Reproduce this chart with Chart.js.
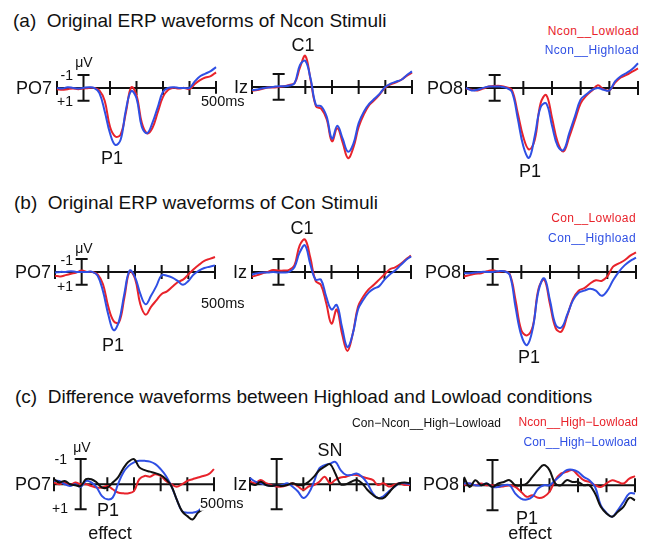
<!DOCTYPE html>
<html>
<head>
<meta charset="utf-8">
<style>
  body { margin: 0; background: #fff; }
  #fig { position: relative; width: 649px; height: 543px; overflow: hidden; font-family: "Liberation Sans", Arial, sans-serif; }
  #fig canvas { position: absolute; }
  .lbl { position: absolute; white-space: pre; line-height: 1; color: #111; }
  .key { letter-spacing: 0.4px; }
  .key2 { letter-spacing: 0.1px; }
</style>
<script src="https://cdn.jsdelivr.net/npm/chart.js@4/dist/chart.umd.min.js"></script>
</head>
<body>
<div id="fig"></div>
<script>
// time axis (ms), one sample every 20 ms
const times = [-100, -80, -60, -40, -20, 0, 20, 40, 60, 80, 100, 120, 140, 160, 180, 200,
               220, 240, 260, 280, 300, 320, 340, 360, 380, 400, 420, 440, 460, 480, 500];
const tickTimes = [-100, 100, 200, 300, 400, 500];

// amplitudes in uV, positive plotted downward
// (a) Ncon stimuli
const po7NconLow  = [0.1, 0.15, 0.1, 0.05, 0.1, 0.05, 0, 0, 0.2, 1.0, 3.0, 3.75, 3.6, 1.9, -0.05, 0.55, 2.7, 3.5, 3.1, 1.9, 0.7, 0.15, 0, 0.05, 0, 0.1, -0.3, -0.6, -0.8, -0.9, -1.2];
const po7NconHigh = [0, 0.05, -0.05, 0, 0.05, 0, -0.05, 0, 0.4, 1.8, 3.5, 4.4, 4.0, 1.7, 0.25, 0.8, 3.0, 3.5, 2.7, 1.5, 0.3, 0, -0.05, 0, 0, 0, -0.5, -0.9, -1.1, -1.3, -1.6];
const izNconLow   = [0.3, 0.25, 0.15, 0.05, 0.05, 0, -0.05, -0.15, -0.3, -1.5, -2.4, -0.5, 1.5, 1.7, 2.5, 4.2, 3.2, 4.3, 5.5, 4.7, 3.1, 2.1, 1.4, 1.0, 0.55, 0.05, -0.2, -0.35, -0.55, -0.85, -1.1];
const izNconHigh  = [0.25, 0.2, 0.1, 0.05, 0, -0.05, -0.05, -0.1, -0.3, -1.7, -2.0, -0.6, 1.4, 1.5, 2.3, 4.0, 3.0, 4.0, 5.0, 4.4, 2.8, 1.9, 1.3, 0.9, 0.5, 0, -0.25, -0.4, -0.55, -0.9, -1.2];
const po8NconLow  = [0.05, 0.15, 0.2, 0.05, -0.1, -0.15, -0.15, -0.05, 0.15, 1.9, 3.8, 4.75, 4.0, 1.2, 0.55, 2.3, 4.2, 4.9, 3.8, 2.5, 1.2, 0.6, 0.2, -0.2, 0.1, 0.2, -0.4, -0.8, -1.0, -1.25, -1.5];
const po8NconHigh = [0, 0.2, 0.15, 0, -0.1, -0.1, -0.1, 0, 0.3, 2.3, 4.5, 5.4, 3.7, 1.5, 1.2, 2.9, 4.5, 4.8, 3.5, 2.2, 0.9, 0.5, 0.15, 0, 0.15, 0.2, -0.5, -0.9, -1.15, -1.45, -1.9];

// (b) Con stimuli
const po7ConLow   = [0.3, 0.35, 0.25, 0.15, 0.05, -0.1, 0, 0, 0.2, 0.95, 2.7, 3.8, 3.9, 2.0, -0.05, 0.5, 2.5, 3.3, 2.7, 2.2, 1.7, 1.5, 1.15, 0.8, 0.6, 0.2, -0.2, -0.55, -0.85, -1.0, -1.15];
const po7ConHigh  = [0.05, 0, 0, -0.05, 0, 0, 0, 0, 0.3, 1.5, 3.3, 4.5, 3.8, 1.7, -0.1, 0.4, 1.7, 2.5, 1.85, 1.1, 0.25, 0.3, 0.45, 0.7, 1.0, 0.7, 0.2, -0.1, -0.3, -0.4, -0.5];
const izConLow    = [0.37, 0.25, 0.1, 0, -0.15, -0.1, -0.1, -0.15, -0.5, -2.05, -2.5, -1.1, 0.7, 1.0, 2.4, 4.0, 2.9, 4.8, 6.1, 4.8, 2.7, 1.9, 1.35, 1.0, 0.6, 0.2, -0.2, -0.35, -0.6, -0.95, -1.25];
const izConHigh   = [0.2, 0.1, 0.05, 0.05, 0, 0.05, 0.05, 0, -0.35, -1.5, -2.05, -0.6, 0.6, 0.6, 1.9, 2.9, 2.55, 4.3, 5.8, 4.8, 2.9, 2.15, 1.6, 1.3, 1.1, 0.6, 0.2, -0.1, -0.5, -0.9, -1.2];
const po8ConLow   = [0.35, 0.25, 0.15, 0.1, -0.05, -0.13, 0, -0.05, 0.2, 2.2, 4.5, 4.9, 4.2, 1.3, 0.6, 2.5, 4.35, 4.6, 3.4, 2.1, 1.45, 1.25, 0.9, 0.65, 0.7, 0.35, -0.4, -0.65, -0.9, -1.25, -1.5];
const po8ConHigh  = [0.1, 0.1, 0.05, 0, 0, 0, -0.05, -0.05, 0.25, 2.75, 4.9, 5.65, 4.35, 1.45, 0.5, 2.2, 4.1, 4.3, 3.3, 2.2, 1.6, 1.45, 1.3, 1.45, 1.85, 1.45, 0.65, 0, -0.5, -0.85, -1.1];

// (c) Highload minus Lowload difference waves
const po7DiffConNcon = [-0.2, -0.07, -0.13, 0, 0.04, 0.07, -0.2, -0.2, -0.07, 0.13, 0.13, -0.07, -0.27, -0.63, -0.9, -1.0, -0.67, -0.56, -0.5, -0.44, -0.36, -0.2, 0.07, 0.6, 1.07, 1.27, 1.4, 1.13, 1.0, 0.95, 1.0];
const po7DiffNcon    = [-0.07, 0, -0.07, 0.04, -0.07, 0, 0, 0.07, 0.13, 0.13, 0.07, 0.2, 0.33, 0.36, 0.36, 0.27, -0.2, -0.33, -0.3, -0.4, -0.33, -0.13, 0, 0.1, 0, -0.13, -0.2, -0.27, -0.33, -0.4, -0.6];
const po7DiffCon     = [-0.13, -0.13, 0, 0.07, 0, 0.1, -0.13, -0.07, 0.13, 0.47, 0.6, 0.53, 0, -0.47, -0.73, -0.87, -0.93, -0.93, -0.9, -0.8, -0.6, -0.33, 0.07, 0.6, 1.07, 1.13, 1.13, 1.07, 0.87, 0.73, 0.73];
const izDiffConNcon  = [-0.04, 0.03, -0.1, 0.03, 0.07, 0.03, 0.07, 0.03, -0.04, 0.03, 0.03, -0.1, -0.3, -0.56, -0.7, -0.8, -0.43, 0, 0, -0.1, -0.17, -0.04, 0.22, 0.42, 0.55, 0.55, 0.35, 0.1, -0.04, -0.07, -0.04];
const izDiffNcon     = [-0.1, -0.04, -0.17, -0.04, 0.03, 0.09, 0.09, 0.03, -0.04, 0.09, 0.22, 0.09, 0.03, -0.1, -0.3, -0.04, -0.17, -0.27, -0.3, -0.37, -0.37, -0.3, -0.24, -0.17, 0.03, -0.04, 0.09, 0.03, -0.04, 0.03, 0.03];
const izDiffCon      = [-0.24, -0.1, -0.04, 0.03, 0.07, 0.03, 0.03, -0.04, 0.1, 0.29, 0.55, 0.36, -0.1, -0.63, -0.76, -0.82, -0.89, -0.56, -0.37, -0.37, -0.43, -0.3, -0.04, 0.35, 0.55, 0.48, 0.29, 0.12, -0.04, -0.04, -0.01];
const po8DiffConNcon = [-0.33, 0.07, -0.2, 0, -0.07, 0.07, -0.07, -0.13, -0.2, 0, 0, -0.07, -0.33, -0.6, -0.8, -0.6, -0.07, 0, -0.2, -0.13, -0.13, 0, 0, 0.33, 0.86, 1.12, 1.25, 1.05, 0.85, 0.5, 0.6];
const po8DiffNcon    = [0, -0.07, 0, -0.07, 0, 0, 0.07, 0.04, 0, 0.07, 0.26, 0.46, 0.4, 0.5, 0.46, 0.26, -0.2, -0.46, -0.53, -0.6, -0.4, -0.2, -0.13, 0, 0.07, -0.07, -0.2, -0.13, -0.07, -0.26, -0.36];
const po8DiffCon     = [-0.07, -0.07, 0, 0, -0.07, 0.07, 0.07, 0, 0, 0.33, 0.53, 0.57, 0.46, 0.13, 0, 0, -0.2, -0.4, -0.6, -0.62, -0.53, -0.33, -0.2, 0.07, 0.8, 1.1, 1.25, 0.99, 0.66, 0.33, 0.33];

const RED = '#e8232b', BLUE = '#2f4fe4', BLACK = '#111111';

// panel geometry: pixel of -100 ms / 500 ms, pixel of 0 uV, px per uV, visible uV range
const panels = [
  { left: 57,  right: 216, zero: 88,  perUV: 13, top: 3,   bottom: 6.8, lines: [[po7NconHigh, BLUE], [po7NconLow, RED]] },
  { left: 252, right: 412, zero: 87,  perUV: 13, top: 3,   bottom: 6.8, lines: [[izNconHigh, BLUE], [izNconLow, RED]] },
  { left: 466, right: 638, zero: 88,  perUV: 13, top: 3,   bottom: 6.8, lines: [[po8NconHigh, BLUE], [po8NconLow, RED]] },
  { left: 55,  right: 215, zero: 272, perUV: 13, top: 3,   bottom: 6.8, lines: [[po7ConHigh, BLUE], [po7ConLow, RED]] },
  { left: 252, right: 411, zero: 272, perUV: 13, top: 3,   bottom: 6.8, lines: [[izConHigh, BLUE], [izConLow, RED]] },
  { left: 464, right: 636, zero: 272, perUV: 13, top: 3,   bottom: 6.8, lines: [[po8ConHigh, BLUE], [po8ConLow, RED]] },
  { left: 54,  right: 214, zero: 484, perUV: 25, top: 1.6, bottom: 1.9, lines: [[po7DiffConNcon, BLACK], [po7DiffCon, BLUE], [po7DiffNcon, RED]] },
  { left: 250, right: 410, zero: 484, perUV: 25, top: 1.6, bottom: 1.9, lines: [[izDiffConNcon, BLACK], [izDiffCon, BLUE], [izDiffNcon, RED]] },
  { left: 464, right: 635, zero: 485, perUV: 25, top: 1.6, bottom: 1.9, lines: [[po8DiffConNcon, BLACK], [po8DiffCon, BLUE], [po8DiffNcon, RED]] }
];

// time axis with 100 ms ticks and the +/-1 uV scale bar at stimulus onset
const erpAxes = {
  id: 'erpAxes',
  beforeDatasetsDraw(chart) {
    const { ctx, scales: { x, y } } = chart;
    const y0 = y.getPixelForValue(0);
    const xOn = x.getPixelForValue(0);
    const yNeg = y.getPixelForValue(-1), yPos = y.getPixelForValue(1);
    ctx.save();
    ctx.strokeStyle = '#111';
    ctx.lineWidth = 2;
    ctx.beginPath();
    ctx.moveTo(x.getPixelForValue(-100), y0);
    ctx.lineTo(x.getPixelForValue(500), y0);
    tickTimes.forEach(t => {
      const px = x.getPixelForValue(t);
      ctx.moveTo(px, y0 - 7);
      ctx.lineTo(px, y0 + 7);
    });
    ctx.moveTo(xOn, yNeg); ctx.lineTo(xOn, yPos);
    ctx.moveTo(xOn - 6, yNeg); ctx.lineTo(xOn + 6, yNeg);
    ctx.moveTo(xOn - 6, yPos); ctx.lineTo(xOn + 6, yPos);
    ctx.stroke();
    ctx.restore();
  }
};

const fig = document.getElementById('fig');
const PAD = 12;

panels.forEach(p => {
  const cv = document.createElement('canvas');
  const w = p.right - p.left + 2 * PAD;
  const h = Math.round((p.top + p.bottom) * p.perUV);
  cv.width = w; cv.height = h;
  cv.style.left = (p.left - PAD) + 'px';
  cv.style.top = Math.round(p.zero - p.top * p.perUV) + 'px';
  cv.style.width = w + 'px'; cv.style.height = h + 'px';
  fig.appendChild(cv);

  new Chart(cv, {
    type: 'line',
    data: {
      datasets: p.lines.map(([vals, col]) => ({
        data: times.map((t, i) => ({ x: t, y: vals[i] })),
        borderColor: col,
        borderWidth: 2,
        pointRadius: 0,
        tension: 0.4,
        clip: false
      }))
    },
    options: {
      responsive: false,
      animation: false,
      devicePixelRatio: 1,
      layout: { padding: { left: PAD, right: PAD, top: 0, bottom: 0 } },
      plugins: { legend: { display: false }, tooltip: { enabled: false } },
      scales: {
        x: { type: 'linear', min: -100, max: 500, display: false },
        y: { type: 'linear', min: -p.top, max: p.bottom, reverse: true, display: false }
      }
    },
    plugins: [erpAxes]
  });
});

// text: [text, x, y(center), size, color, anchor, extra class]
const labels = [
  ['(a)  Original ERP waveforms of Ncon Stimuli', 13, 20, 19, BLACK, 'l'],
  ['(b)  Original ERP waveforms of Con Stimuli', 14, 202, 19, BLACK, 'l'],
  ['(c)  Difference waveforms between Highload and Lowload conditions', 15, 396, 19, BLACK, 'l'],

  ['PO7', 16, 88, 18, BLACK, 'l'], ['Iz', 234, 87, 18, BLACK, 'l'], ['PO8', 427, 88, 18, BLACK, 'l'],
  ['PO7', 15, 272, 18, BLACK, 'l'], ['Iz', 233, 272, 18, BLACK, 'l'], ['PO8', 425, 272, 18, BLACK, 'l'],
  ['PO7', 15, 484, 18, BLACK, 'l'], ['Iz', 233, 484, 18, BLACK, 'l'], ['PO8', 423, 484, 18, BLACK, 'l'],

  ['\u03bcV', 84, 62, 14, BLACK, 'c'], ['-1', 73, 75, 14, BLACK, 'r'], ['+1', 73, 101, 14, BLACK, 'r'],
  ['\u03bcV', 84, 248, 14, BLACK, 'c'], ['-1', 73, 260, 14, BLACK, 'r'], ['+1', 73, 286, 14, BLACK, 'r'],
  ['\u03bcV', 82, 447, 14, BLACK, 'c'], ['-1', 67, 459, 14, BLACK, 'r'], ['+1', 68, 508, 14, BLACK, 'r'],

  ['P1', 112, 158, 18, BLACK, 'c'], ['C1', 303, 45, 18, BLACK, 'c'], ['P1', 530, 171, 18, BLACK, 'c'],
  ['P1', 113, 345, 18, BLACK, 'c'], ['C1', 302, 228, 18, BLACK, 'c'], ['P1', 529, 357, 18, BLACK, 'c'],
  ['P1', 108, 510, 18, BLACK, 'c'], ['effect', 110, 533, 18, BLACK, 'c'], ['SN', 330, 450, 18, BLACK, 'c'],
  ['P1', 527, 518, 18, BLACK, 'c'], ['effect', 530, 533, 18, BLACK, 'c'],

  ['Ncon__Lowload', 639, 31, 12, RED, 'r', 'key'], ['Ncon__Highload', 639, 50, 12, BLUE, 'r', 'key'],
  ['Con__Lowload', 636, 218, 12, RED, 'r', 'key'], ['Con__Highload', 636, 238, 12, BLUE, 'r', 'key'],
  ['Con\u2212Ncon__High\u2212Lowload', 352, 423, 12, BLACK, 'l', 'key2'],
  ['Ncon__High\u2212Lowload', 638, 422, 12, RED, 'r', 'key2'], ['Con__High\u2212Lowload', 637, 442, 12, BLUE, 'r', 'key2']
];

labels.forEach(([txt, x, y, size, col, anchor, cls]) => {
  const d = document.createElement('div');
  d.className = 'lbl' + (cls ? ' ' + cls : '');
  d.textContent = txt;
  d.style.left = x + 'px';
  d.style.top = y + 'px';
  d.style.fontSize = size + 'px';
  d.style.color = col;
  const tx = anchor === 'c' ? '-50%' : anchor === 'r' ? '-100%' : '0';
  d.style.transform = 'translate(' + tx + ', -50%)';
  fig.appendChild(d);
});

// "500ms" sits on a white patch over the traces
[[201, 101], [201, 303], [200, 503]].forEach(([x, y]) => {
  const d = document.createElement('div');
  d.className = 'lbl';
  d.textContent = '500ms';
  d.style.left = x + 'px';
  d.style.top = y + 'px';
  d.style.fontSize = '14.5px';
  d.style.background = '#fff';
  d.style.transform = 'translate(0, -50%)';
  fig.appendChild(d);
});
</script>
</body>
</html>
